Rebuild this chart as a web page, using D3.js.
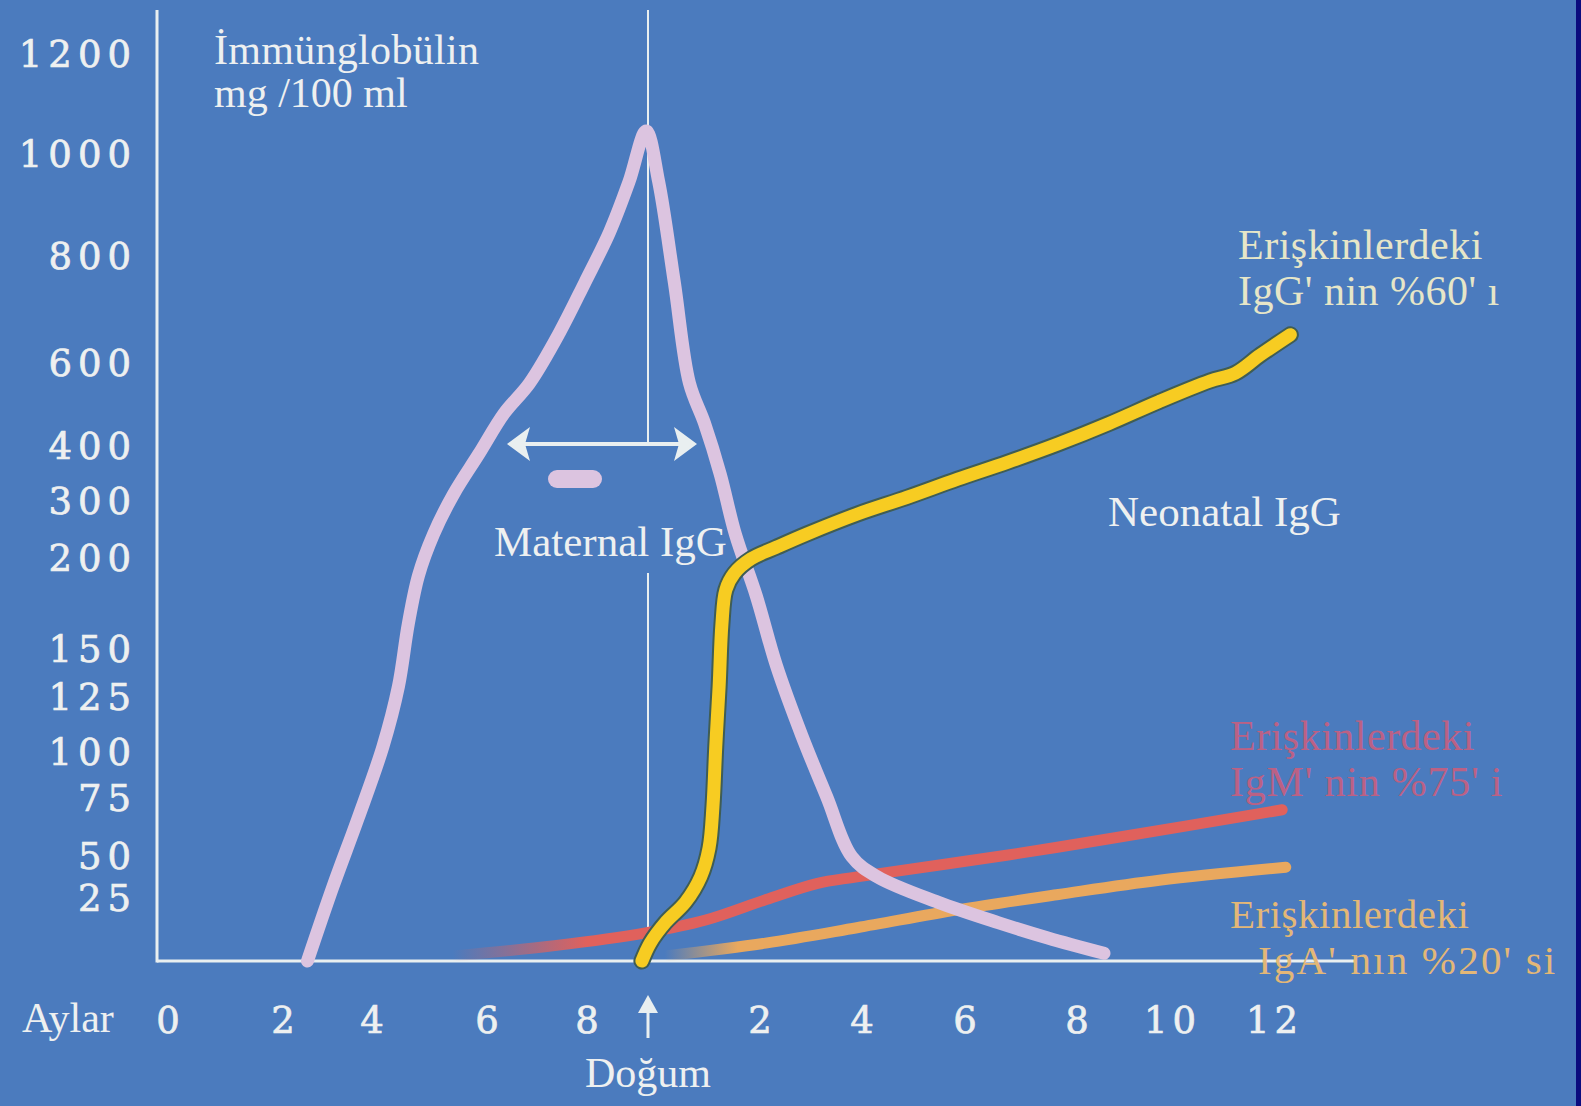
<!DOCTYPE html>
<html><head><meta charset="utf-8">
<script src="https://cdn.jsdelivr.net/npm/d3@7"></script>
<style>
html,body{margin:0;padding:0;background:#4b7bbe;overflow:hidden}
svg{display:block}
</style></head>
<body><svg id="c" width="1581" height="1106"></svg>
<script>
// ---------- DATA ----------
// t = months from conception (0–9 gestation, birth at 9, then 12 months after birth)
const yTickValues = [25, 50, 75, 100, 125, 150, 200, 300, 400, 600, 800, 1000, 1200];
const xTickValues = [0, 2, 4, 6, 8, 9, 11, 13, 15, 17, 19, 21];
const xTickLabels = ["0", "2", "4", "6", "8", "", "2", "4", "6", "8", "10", "12"];

const maternalT = [2.55,3.12,3.69,4.19,4.46,4.63,4.81,5.07,5.42,5.86,6.34,6.85,7.45,7.96,8.37,8.69,8.97,9.19,9.47,9.74,10.01,10.29,10.56,10.93,11.32,11.82,12.31,12.80,13.30,14.47,15.59,16.48,17.58];
const maternalV = [0,31,66,102,130,163,190,240,311,384,476,549,655,749,845,944,1044,944,749,549,452,347,240,179,141,107,75,49,37,23,15,9,3];

const neonatalT = [8.9,9.04,9.31,9.67,9.94,10.09,10.16,10.21,10.27,10.32,10.39,10.54,10.84,11.32,11.91,12.90,13.88,14.86,15.77,16.67,17.69,18.77,19.78,20.28,20.77,21.36];
const neonatalV = [0,7,15,23,37,53,71,102,130,163,182,191,199,217,240,275,305,338,369,403,452,505,554,573,613,651];

const igmT = [5.42,7.35,8.96,10.03,11.12,12.11,12.9,15.77,17.69,21.2];
const igmV = [2,6,11,16,24,33,37,50,57,69.5];

const igaT = [9.31,11.11,12.9,14.86,16.67,18.77,21.27];
const igaV = [2,7,13,20,26.5,35,42.7];

// ---------- LAYOUT ----------
const W = 1581, H = 1106;
const yZeroPix = 961;
const yTickPix = [897, 855, 797, 751, 696, 648, 557, 500, 445, 362, 255, 153, 53];
const xTickPix = [168, 283, 372, 487, 587, 648, 760, 862, 965, 1077, 1170, 1272];
const axisX = 157, axisTop = 10, axisRight = 1356;

const x = d3.scaleLinear().domain(xTickValues).range(xTickPix);
const y = d3.scaleLinear().domain([0, ...yTickValues]).range([yZeroPix, ...yTickPix]);

const svg = d3.select("#c");
svg.append("rect").attr("width", W).attr("height", H).attr("fill", "#4b7bbe");
svg.append("rect").attr("x", 1576).attr("y", 0).attr("width", 5).attr("height", H).attr("fill", "#0b0b7e");

const defs = svg.append("defs");
function fadeGrad(id, color, x0, x1) {
  const g = defs.append("linearGradient").attr("id", id)
    .attr("gradientUnits", "userSpaceOnUse").attr("x1", x0).attr("x2", x1).attr("y1", 0).attr("y2", 0);
  g.append("stop").attr("offset", 0).attr("stop-color", color).attr("stop-opacity", 0);
  g.append("stop").attr("offset", 1).attr("stop-color", color).attr("stop-opacity", 1);
}
fadeGrad("gRed", "#e0615c", x(5.4), x(8.0));
fadeGrad("gOra", "#e9a85e", x(9.3), x(10.6));

const lineColor = "#e9eff0";
const serif = "'Liberation Serif', 'Times New Roman', serif";
const numFont = "'DejaVu Serif', serif";

// axes lines
svg.append("line").attr("x1", axisX).attr("x2", axisX).attr("y1", axisTop).attr("y2", y(0) + 1.5)
  .attr("stroke", lineColor).attr("stroke-width", 3);
svg.append("line").attr("x1", axisX).attr("x2", axisRight).attr("y1", y(0)).attr("y2", y(0))
  .attr("stroke", lineColor).attr("stroke-width", 3);

// birth line (two segments)
svg.append("line").attr("x1", x(9)).attr("x2", x(9)).attr("y1", axisTop).attr("y2", 444)
  .attr("stroke", lineColor).attr("stroke-width", 2);
svg.append("line").attr("x1", x(9)).attr("x2", x(9)).attr("y1", 573).attr("y2", y(0) - 4)
  .attr("stroke", lineColor).attr("stroke-width", 2);

// y axis ticks via d3 axis
const yAxis = svg.append("g").attr("transform", `translate(${axisX - 22},0)`)
  .call(d3.axisLeft(y).tickValues(yTickValues).tickSize(0).tickFormat(d3.format("d")));
yAxis.select(".domain").remove();
yAxis.selectAll("text").attr("font-family", numFont).attr("font-size", 37)
  .attr("letter-spacing", 6).attr("fill", "#eef0f0").attr("stroke", "#eef0f0").attr("stroke-width", 0.7)
  .attr("x", 0).attr("dx", 2).attr("dy", "0.36em");

// x axis ticks via d3 axis
const xAxis = svg.append("g").attr("transform", `translate(0,${y(0)})`)
  .call(d3.axisBottom(x).tickValues(xTickValues).tickSize(0).tickFormat((d, i) => xTickLabels[i]));
xAxis.select(".domain").remove();
xAxis.selectAll("text").attr("font-family", numFont).attr("font-size", 37)
  .attr("letter-spacing", 5).attr("dx", 2).attr("fill", "#eef0f0").attr("stroke", "#eef0f0").attr("stroke-width", 0.7)
  .attr("y", 72).attr("dy", 0);

// birth arrow
const bx = x(9);
svg.append("line").attr("x1", bx).attr("x2", bx).attr("y1", 1004).attr("y2", 1038)
  .attr("stroke", lineColor).attr("stroke-width", 3);
svg.append("path").attr("d", `M${bx - 10},${1013} L${bx},${995} L${bx + 10},${1013} Z`).attr("fill", lineColor);

// texts
function txt(str, tx, ty, size, fill, extra) {
  const t = svg.append("text").attr("x", tx).attr("y", ty).attr("font-family", serif)
    .attr("font-size", size).attr("fill", fill).text(str);
  if (extra) extra(t);
  return t;
}
txt("Aylar", 22, 1032, 42, "#eef0f0");
txt("Doğum", 648, 1087, 42, "#eef0f0", t => t.attr("text-anchor", "middle"));
txt("İmmünglobülin", 214, 64, 42, "#eef0f0", t => t.attr("letter-spacing", 0.3));
txt("mg /100 ml", 214, 107, 42, "#eef0f0");
txt("Maternal IgG", 494, 556, 43, "#eef0f0");
txt("Neonatal IgG", 1108, 526, 43, "#eef0f0");
txt("Erişkinlerdeki", 1238, 259, 42, "#e6e6c8", t => t.attr("letter-spacing", 0.5));
txt("IgG' nin %60' ı", 1238, 305, 42, "#e6e6c8", t => t.attr("letter-spacing", 0.5));
txt("Erişkinlerdeki", 1230, 750, 42, "#cf5d7c", t => t.attr("opacity", 0.85).attr("letter-spacing", 0.5));
txt("IgM' nin %75' i", 1230, 796, 42, "#cf5d7c", t => t.attr("opacity", 0.85).attr("letter-spacing", 0.8));

// double arrow (maternal IgG transfer window)
svg.append("line").attr("x1", 522).attr("x2", 682).attr("y1", 444).attr("y2", 444)
  .attr("stroke", lineColor).attr("stroke-width", 4);
svg.append("path").attr("d", "M507,444 L530,427 L525,444 L530,461 Z").attr("fill", lineColor);
svg.append("path").attr("d", "M697,444 L674,427 L679,444 L674,461 Z").attr("fill", lineColor);
svg.append("rect").attr("x", 548).attr("y", 470).attr("width", 54).attr("height", 18).attr("rx", 9)
  .attr("fill", "#dcc4e0");

// series lines
const mk = (T, V) => T.map((t, i) => [t, V[i]]);
const line = d3.line().x(d => x(d[0])).y(d => y(d[1])).curve(d3.curveCatmullRom.alpha(0.5));

svg.append("path").attr("d", line(mk(igmT, igmV))).attr("fill", "none")
  .attr("stroke", "url(#gRed)").attr("stroke-width", 11).attr("stroke-linecap", "round");
svg.append("path").attr("d", line(mk(igaT, igaV))).attr("fill", "none")
  .attr("stroke", "url(#gOra)").attr("stroke-width", 11).attr("stroke-linecap", "round");

svg.append("path").attr("d", line(mk(maternalT, maternalV))).attr("fill", "none")
  .attr("stroke", "#dcc4e0").attr("stroke-width", 13).attr("stroke-linecap", "round").attr("stroke-linejoin", "round");

svg.append("path").attr("d", line(mk(neonatalT, neonatalV))).attr("fill", "none")
  .attr("stroke", "#3f5d55").attr("stroke-width", 17).attr("stroke-linecap", "round").attr("stroke-linejoin", "round");
svg.append("path").attr("d", line(mk(neonatalT, neonatalV))).attr("fill", "none")
  .attr("stroke", "#f7cc22").attr("stroke-width", 13).attr("stroke-linecap", "round").attr("stroke-linejoin", "round");

// IgA label drawn last (overlaps axis)
txt("Erişkinlerdeki", 1230, 928, 41, "#e3b777", t => t.attr("letter-spacing", 0.5));
txt("IgA' nın %20' si", 1258, 974, 41, "#e3b777", t => t.attr("letter-spacing", 2.2));
</script></body></html>
